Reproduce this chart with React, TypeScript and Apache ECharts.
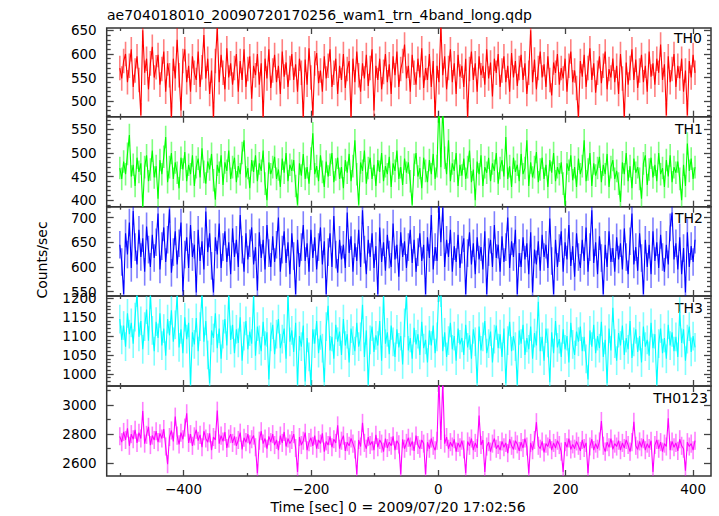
import React, { useEffect, useRef } from "react";
import * as echarts from "echarts";

// time bins (seconds from 2009/07/20 17:02:56)
const startTime = -500;
const binSize = 3;

const th0 = [
  570, 548, 585, 600, 540, 575, 610, 530, 565, 595,
  545, 470, 650, 560, 590, 525, 580, 615, 550, 572,
  598, 535, 568, 605, 520, 580, 555, 465, 590, 548,
  630, 555, 480, 585, 610, 540, 575, 520, 595, 560,
  545, 605, 530, 572, 640, 548, 590, 515, 565, 465,
  585, 655, 540, 598, 560, 525, 612, 550, 580, 535,
  570, 600, 520, 585, 545, 610, 530, 568, 595, 505,
  575, 555, 600, 535, 580, 465, 590, 548, 610, 528,
  565, 598, 540, 575, 515, 605, 552, 582, 530, 570,
  600, 545, 578, 520, 590, 560, 465, 588, 535, 612,
  550, 470, 580, 602, 538, 565, 520, 595, 548, 575,
  610, 530, 560, 590, 515, 575, 545, 600, 528, 568,
  585, 465, 590, 540, 605, 555, 520, 580, 548, 598,
  532, 570, 610, 480, 575, 545, 590, 525, 562, 600,
  540, 578, 515, 595, 555, 605, 530, 568, 585, 620,
  548, 575, 520, 598, 560, 535, 590, 550, 612, 528,
  570, 545, 600, 530, 585, 465, 575, 540, 660, 555,
  595, 525, 570, 610, 540, 580, 515, 598, 552, 575,
  530, 590, 465, 568, 605, 545, 580, 520, 595, 555,
  575, 535, 610, 548, 582, 510, 590, 560, 600, 530,
  565, 595, 540, 575, 520, 602, 550, 585, 532, 570,
  598, 545, 580, 515, 560, 650, 540, 588, 525, 570,
  605, 550, 578, 530, 595, 545, 512, 582, 560, 600,
  535, 570, 548, 590, 520, 575, 605, 540, 565, 528,
  465, 585, 552, 598, 530, 570, 612, 545, 580, 518,
  560, 595, 538, 575, 605, 525, 568, 550, 590, 540,
  575, 515, 600, 548, 465, 582, 535, 570, 610, 545,
  588, 528, 565, 598, 540, 575, 520, 605, 552, 580,
  535, 590, 560, 620, 545, 578, 470, 595, 540, 568,
  600, 530, 575, 548, 590, 520, 565, 470, 585, 550,
  598, 560,
];

const th1 = [
  468, 445, 482, 455, 498, 538, 450, 475, 430, 490,
  460, 478, 385, 470, 495, 440, 465, 505, 448, 472,
  403, 485, 455, 492, 534, 438, 470, 500, 445, 480,
  458, 425, 490, 465, 502, 440, 475, 455, 495, 430,
  470, 488, 448, 510, 460, 435, 482, 465, 498, 442,
  401, 475, 458, 495, 432, 480, 462, 505, 445, 470,
  490, 438, 472, 455, 500, 527, 448, 468, 425, 485,
  460, 495, 440, 478, 462, 505, 435, 400, 480, 455,
  470, 492, 445, 465, 428, 488, 458, 500, 440, 475,
  462, 485, 430, 390, 478, 452, 498, 445, 470, 435,
  488, 542, 455, 472, 440, 495, 460, 428, 482, 450,
  475, 500, 438, 465, 490, 445, 470, 425, 485, 458,
  498, 440, 472, 527, 455, 390, 480, 462, 505, 435,
  468, 490, 445, 475, 430, 485, 460, 500, 440, 472,
  455, 492, 428, 478, 462, 505, 445, 470, 432, 488,
  458, 480, 440, 390, 475, 500, 450, 468, 425, 490,
  462, 438, 485, 455, 498, 445, 472, 610, 470, 600,
  490, 455, 527, 440, 478, 462, 500, 430, 475, 452,
  488, 445, 470, 505, 438, 465, 400, 482, 455, 495,
  430, 470, 458, 490, 440, 478, 462, 500, 435, 468,
  485, 450, 534, 445, 472, 428, 490, 460, 475, 440,
  498, 455, 468, 527, 430, 480, 448, 470, 502, 438,
  465, 490, 445, 475, 428, 485, 458, 500, 440, 470,
  455, 480, 435, 390, 478, 462, 495, 442, 470, 428,
  488, 455, 472, 527, 440, 465, 500, 430, 478, 452,
  468, 492, 438, 475, 455, 498, 428, 470, 485, 445,
  462, 435, 396, 480, 455, 500, 440, 472, 425, 488,
  458, 470, 445, 403, 478, 495, 432, 465, 490, 448,
  475, 440, 500, 455, 468, 428, 485, 450, 495, 438,
  470, 458, 482, 445, 400, 475, 430, 520, 462, 488,
  445, 470,
];

const th2 = [
  645, 610, 545, 668, 625, 690, 598, 713, 640, 605,
  675, 620, 658, 590, 682, 635, 600, 665, 618, 650,
  708, 595, 642, 680, 610, 655, 717, 588, 630, 672,
  605, 648, 690, 550, 625, 660, 598, 685, 620, 645,
  548, 675, 612, 652, 595, 712, 630, 668, 602, 548,
  660, 625, 688, 598, 640, 672, 610, 650, 585, 678,
  620, 655, 600, 705, 635, 590, 668, 615, 648, 680,
  605, 640, 552, 670, 618, 655, 595, 685, 628, 600,
  662, 610, 645, 700, 590, 635, 672, 608, 650, 585,
  668, 622, 545, 655, 600, 640, 685, 612, 648, 590,
  675, 618, 660, 595, 640, 680, 605, 652, 545, 630,
  668, 600, 703, 625, 588, 655, 615, 645, 598, 710,
  628, 662, 590, 648, 612, 675, 600, 715, 635, 585,
  655, 620, 668, 598, 642, 545, 680, 610, 650, 592,
  665, 625, 600, 688, 615, 645, 580, 670, 620, 652,
  598, 640, 675, 608, 655, 590, 630, 668, 612, 645,
  545, 660, 618, 705, 595, 640, 612, 725, 650, 720,
  600, 655, 620, 675, 590, 642, 610, 665, 598, 635,
  658, 545, 628, 670, 605, 648, 585, 660, 615, 640,
  595, 672, 545, 630, 655, 600, 685, 618, 645, 590,
  662, 610, 640, 700, 598, 652, 620, 675, 545, 628,
  600, 660, 615, 648, 585, 670, 548, 635, 605, 652,
  592, 665, 620, 645, 598, 698, 612, 545, 655, 600,
  638, 672, 590, 650, 615, 685, 602, 642, 580, 668,
  620, 598, 655, 612, 680, 590, 640, 715, 608, 650,
  585, 662, 618, 545, 645, 600, 672, 610, 638, 590,
  660, 615, 648, 595, 678, 620, 585, 652, 708, 605,
  640, 592, 668, 618, 545, 655, 600, 645, 585, 672,
  612, 650, 598, 665, 620, 590, 645, 605, 680, 710,
  615, 648, 595, 660, 585, 638, 548, 670, 600, 642,
  610, 655,
];

const th3 = [
  1145, 1090, 1128, 1072, 1160, 1105, 1135, 1080, 1150, 1215,
  1098, 1140, 1065, 1125, 1170, 1088, 1210, 1115, 1060, 1138,
  1095, 1160, 1075, 1120, 1048, 1145, 1102, 1168, 1085, 1130,
  1208, 1070, 1118, 1055, 1150, 1092, 1135, 972, 1110, 1078,
  1148, 1060, 1125, 1212, 1085, 1140, 1050, 975, 1115, 1095,
  1160, 1068, 1120, 1040, 1105, 1145, 1075, 1210, 1090, 1130,
  1055, 1118, 1082, 1150, 1035, 1100, 1140, 1065, 1112, 1080,
  1205, 1048, 1125, 1090, 1060, 1138, 1075, 1110, 985, 1098,
  1130, 1052, 1105, 1145, 1068, 1092, 1120, 1040, 1210, 1085,
  1115, 1058, 1135, 972, 1100, 1072, 1128, 980, 1095, 1045,
  972, 1118, 1080, 1140, 1055, 1102, 1068, 978, 1125, 1180,
  1062, 1098, 1040, 1130, 1085, 1112, 1050, 1145, 1075, 1105,
  1030, 1120, 1088, 1060, 1135, 1072, 1098, 1183, 1045, 1115,
  972, 1090, 1125, 1058, 1102, 1075, 1140, 1035, 1205, 1080,
  1110, 1052, 1128, 1085, 1045, 1118, 1070, 1100, 1025, 1135,
  1208, 1062, 1095, 1040, 1122, 1078, 1105, 1050, 1138, 1068,
  1090, 1030, 1115, 1075, 1128, 1055, 1098, 1230, 1215, 1060,
  1110, 1045, 1088, 1135, 1065, 1100, 1035, 1120, 1078, 1095,
  1050, 1130, 1070, 1102, 1040, 1118, 1085, 975, 1125, 1062,
  1098, 1140, 1055, 1080, 1112, 1030, 1092, 1128, 1068, 1105,
  1045, 1120, 975, 1088, 1138, 1060, 1100, 1072, 972, 1115,
  1080, 1130, 1050, 1095, 1065, 1125, 1040, 1108, 1075, 1191,
  1060, 1098, 1035, 1120, 1082, 978, 1110, 1055, 1140, 1070,
  1092, 1045, 1118, 1065, 1100, 1030, 1135, 1078, 1050, 1112,
  1085, 1125, 1060, 1098, 1040, 985, 1115, 1072, 1130, 1055,
  1100, 1068, 1138, 1045, 1090, 975, 1120, 1062, 1175, 1080,
  1035, 1108, 1075, 1128, 1050, 1095, 1065, 1140, 1042, 1085,
  1118, 1058, 1100, 1030, 1125, 1072, 1090, 1048, 1135, 1068,
  1105, 972, 1080, 1120, 1055, 1095, 1040, 1130, 1075, 1110,
  1060, 1098, 1045, 1165, 1082, 1118, 1035, 1092, 1125, 1058,
  1100, 1070,
];

const th0123 = [
  2785, 2745, 2815, 2760, 2840, 2720, 2800, 2765, 2830, 2740,
  2810, 2770, 2959, 2735, 2795, 2850, 2725, 2790, 2760, 2820,
  2745, 2805, 2770, 2835, 2715, 2594, 2780, 2825, 2750, 2920,
  2790, 2730, 2810, 2765, 2845, 2943, 2740, 2800, 2720, 2785,
  2830, 2755, 2795, 2710, 2820, 2770, 2745, 2805, 2690, 2780,
  2760, 2961, 2735, 2790, 2750, 2815, 2705, 2770, 2800, 2740,
  2785, 2720, 2760, 2810, 2695, 2775, 2745, 2800, 2730, 2765,
  2790, 2710, 2532, 2755, 2820, 2735, 2770, 2700, 2785, 2745,
  2800, 2725, 2760, 2690, 2790, 2740, 2815, 2715, 2770, 2735,
  2760, 2800, 2705, 2540, 2780, 2725, 2755, 2810, 2690, 2745,
  2775, 2720, 2790, 2700, 2760, 2735, 2805, 2680, 2750, 2725,
  2785, 2710, 2765, 2740, 2860, 2700, 2755, 2790, 2685, 2745,
  2720, 2770, 2735, 2695, 2525, 2760, 2715, 2877, 2740, 2700,
  2780, 2725, 2750, 2690, 2795, 2710, 2760, 2735, 2680, 2770,
  2705, 2745, 2720, 2785, 2690, 2755, 2730, 2525, 2765, 2700,
  2740, 2775, 2715, 2750, 2685, 2790, 2725, 2700, 2760, 2735,
  2525, 2745, 2700, 2770, 2720, 2690, 2755, 3180, 2760, 3170,
  2735, 2780, 2700, 2745, 2715, 2765, 2680, 2740, 2710, 2755,
  2695, 2532, 2750, 2720, 2770, 2690, 2740, 2705, 2927, 2725,
  2760, 2540, 2715, 2745, 2680, 2735, 2770, 2700, 2725, 2690,
  2750, 2710, 2740, 2670, 2765, 2720, 2695, 2755, 2730, 2685,
  2745, 2705, 2770, 2715, 2530, 2740, 2690, 2760, 2882, 2720,
  2700, 2750, 2675, 2735, 2715, 2765, 2690, 2740, 2705, 2755,
  2725, 2680, 2540, 2745, 2710, 2770, 2695, 2730, 2700, 2750,
  2720, 2685, 2760, 2705, 2740, 2532, 2715, 2765, 2690, 2735,
  2700, 2750, 2890, 2720, 2680, 2745, 2710, 2770, 2695, 2735,
  2715, 2755, 2690, 2740, 2705, 2760, 2725, 2680, 2745, 2885,
  2720, 2695, 2750, 2710, 2765, 2690, 2735, 2705, 2755, 2540,
  2725, 2760, 2700, 2745, 2680, 2735, 2715, 2909, 2690, 2750,
  2710, 2740, 2685, 2765, 2720, 2700, 2550, 2745, 2715, 2735,
  2690, 2755,
];

// typical 1-sigma error bar of each band (counts/sec)
const errTH0 = 26;
const errTH1 = 24;
const errTH2 = 28;
const errTH3 = 38;
const errTH0123 = 62;

// tick labels
const timeMajorTicks = [-400, -200, 0, 200, 400];
const timeMinorTicks = [-500, -300, -100, 100, 300];
const th0Ticks = [500, 550, 600, 650];
const th1Ticks = [400, 450, 500, 550];
const th2Ticks = [550, 600, 650, 700];
const th3Ticks = [1000, 1050, 1100, 1150, 1200];
const th0123Ticks = [2600, 2800, 3000];

const title = "ae704018010_20090720170256_wam1_trn_4band_long.qdp";
const xTitle = "Time [sec] 0 = 2009/07/20 17:02:56";
const yTitle = "Counts/sec";

const FONT = "DejaVu Sans";

export default function App() {
  const ref = useRef<HTMLDivElement>(null);

  useEffect(() => {
    document.body.style.margin = "0";
    const chart = echarts.init(ref.current!, null, { renderer: "svg" });

    const panels = [
      { name: "TH0", values: th0, err: errTH0, color: "#ff0000", min: 467, max: 655, major: th0Ticks, minorStep: 10, labelX: 702, labelY: 38 },
      { name: "TH1", values: th1, err: errTH1, color: "#00ff00", min: 386, max: 577, major: th1Ticks, minorStep: 10, labelX: 703, labelY: 129 },
      { name: "TH2", values: th2, err: errTH2, color: "#0000ff", min: 541, max: 722, major: th2Ticks, minorStep: 10, labelX: 703, labelY: 218 },
      { name: "TH3", values: th3, err: errTH3, color: "#00ffff", min: 968, max: 1206, major: th3Ticks, minorStep: 10, labelX: 703, labelY: 307.5 },
      { name: "TH0123", values: th0123, err: errTH0123, color: "#ff00ff", min: 2513, max: 3130, major: th0123Ticks, minorStep: 100, labelX: 708, labelY: 397.5 },
    ];
    const edges = [28, 116.7, 206.7, 296, 386, 476];
    const gridLeft = 106.7;
    const gridRight = 711;
    const xMin = -520.6;
    const xMax = 428.1;
    const frame = "#333333";
    const tickColor = "#444444";

    const grids: any[] = [];
    const xAxes: any[] = [];
    const yAxes: any[] = [];
    const series: any[] = [];
    const graphics: any[] = [];

    panels.forEach((p, i) => {
      grids.push({
        left: gridLeft,
        width: gridRight - gridLeft,
        top: edges[i],
        height: edges[i + 1] - edges[i],
        show: true,
        borderColor: frame,
        borderWidth: 1.5,
        backgroundColor: "transparent",
        outerBoundsMode: "none",
      });

      const minorVals: number[] = [];
      for (let v = Math.ceil(p.min / p.minorStep) * p.minorStep; v <= p.max; v += p.minorStep) {
        if (!p.major.includes(v)) minorVals.push(v);
      }

      const xBase = (position: string, vals: number[], len: number, labels: boolean) => ({
        type: "value",
        gridIndex: i,
        position,
        min: xMin,
        max: xMax,
        axisLine: { show: false, onZero: false },
        splitLine: { show: false },
        axisTick: { show: true, inside: true, length: len, customValues: vals, lineStyle: { color: tickColor, width: 1.3 } },
        axisLabel: labels
          ? {
              show: true,
              customValues: vals,
              margin: 6,
              color: "#000",
              fontFamily: FONT,
              fontSize: 13.5,
              formatter: (v: number) => (v < 0 ? "\u2212" + Math.abs(v) : String(v)),
            }
          : { show: false },
      });
      xAxes.push(xBase("bottom", timeMajorTicks, 6, i === panels.length - 1));
      xAxes.push(xBase("bottom", timeMinorTicks, 3, false));
      xAxes.push(xBase("top", timeMajorTicks, 6, false));
      xAxes.push(xBase("top", timeMinorTicks, 3, false));

      const yBase = (position: string, vals: number[], len: number, labels: boolean) => ({
        type: "value",
        gridIndex: i,
        position,
        min: p.min,
        max: p.max,
        axisLine: { show: false, onZero: false },
        splitLine: { show: false },
        axisTick: { show: true, inside: true, length: len, customValues: vals, lineStyle: { color: tickColor, width: 1.3 } },
        axisLabel: labels
          ? {
              show: true,
              customValues: vals,
              margin: 10,
              color: "#000",
              fontFamily: FONT,
              fontSize: 13.5,
              formatter: (v: number) => String(v),
            }
          : { show: false },
      });
      yAxes.push(yBase("left", p.major, 7, true));
      yAxes.push(yBase("left", minorVals, 4, false));
      yAxes.push(yBase("right", p.major, 7, false));
      yAxes.push(yBase("right", minorVals, 4, false));

      const pts = p.values.map((v, k) => [startTime + k * binSize, v]);
      const errPts = p.values.map((v, k) => [startTime + k * binSize, v, p.err]);

      series.push({
        type: "custom",
        xAxisIndex: i * 4,
        yAxisIndex: i * 4,
        clip: true,
        silent: true,
        data: errPts,
        renderItem: (_params: any, api: any) => {
          const t = api.value(0);
          const v = api.value(1);
          const e = api.value(2);
          const a = api.coord([t, v - e]);
          const b = api.coord([t, v + e]);
          return {
            type: "line",
            shape: { x1: a[0], y1: a[1], x2: b[0], y2: b[1] },
            style: { stroke: p.color, opacity: 0.5, lineWidth: 1.6 },
          };
        },
      });
      series.push({
        type: "line",
        xAxisIndex: i * 4,
        yAxisIndex: i * 4,
        data: pts,
        showSymbol: false,
        symbol: "none",
        clip: true,
        lineStyle: { color: p.color, width: 1.1 },
        silent: true,
      });

      graphics.push({
        type: "text",
        x: p.labelX,
        y: p.labelY,
        style: { text: p.name, fill: "#000", font: `14px "${FONT}"`, textAlign: "right", textVerticalAlign: "middle" },
      });
    });

    graphics.push({
      type: "text",
      x: 107,
      y: 15,
      style: { text: title, fill: "#000", font: `14px "${FONT}"`, textAlign: "left", textVerticalAlign: "middle" },
    });
    graphics.push({
      type: "text",
      x: 398,
      y: 506.5,
      style: { text: xTitle, fill: "#000", font: `14px "${FONT}"`, textAlign: "center", textVerticalAlign: "middle" },
    });
    graphics.push({
      type: "text",
      x: 41.5,
      y: 260,
      rotation: Math.PI / 2,
      style: { text: yTitle, fill: "#000", font: `14px "${FONT}"`, textAlign: "center", textVerticalAlign: "middle" },
    });

    chart.setOption({
      animation: false,
      backgroundColor: "#ffffff",
      grid: grids,
      xAxis: xAxes,
      yAxis: yAxes,
      series,
      graphic: graphics,
    });

    return () => chart.dispose();
  }, []);

  return <div ref={ref} style={{ width: 719, height: 516 }} />;
}
